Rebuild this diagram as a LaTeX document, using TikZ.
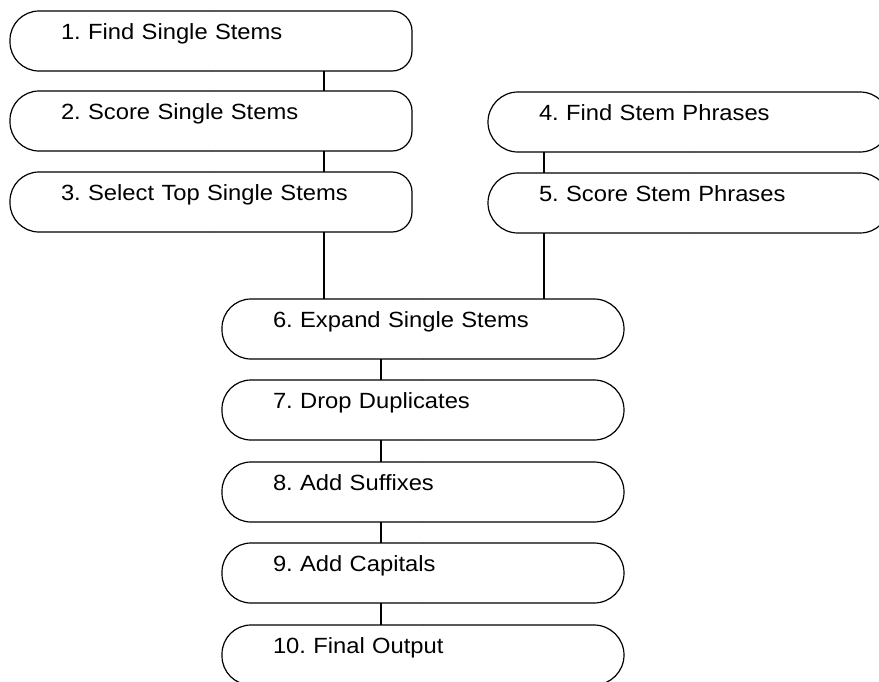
\documentclass[tikz,border=0pt]{standalone}
\usepackage{fontspec}
\setmainfont{Liberation Sans}[FakeStretch=1.08]
\frenchspacing
\newcommand\pillout[3]{%
  \draw[boxline, rounded corners=#2] (#1.north) -- (#1.north west) -- (#1.south west) -- (#1.south);
  \draw[boxline, rounded corners=#3] (#1.south) -- (#1.south east) -- (#1.north east) -- (#1.north);}
\begin{document}
\begin{tikzpicture}[x=1pt,y=-1pt,
  stepbox/.style={draw=none, rectangle, anchor=north west, align=left,
    text width=300pt, inner xsep=51pt, inner ysep=0pt, outer sep=0pt,
    text height=28pt, text depth=32pt, font=\fontsize{22}{26}\selectfont\frenchspacing},
  boxline/.style={line width=1.2pt, black},
  conn/.style={line width=1.8pt, black}]
\useasboundingbox (0,0) rectangle (879,681);
\clip (0,0) rectangle (879,681);
\node[stepbox] (n1) at (10,11) {1. Find Single Stems};
\node[stepbox] (n2) at (10,91) {2. Score Single Stems};
\node[stepbox] (n3) at (10,172) {3. Select Top Single Stems};
\node[stepbox] (n4) at (488,92) {4. Find Stem Phrases};
\node[stepbox] (n5) at (488,173) {5. Score Stem Phrases};
\node[stepbox] (n6) at (222,299) {6. Expand Single Stems};
\node[stepbox] (n7) at (222,380) {7. Drop Duplicates};
\node[stepbox] (n8) at (222,462) {8. Add Suffixes};
\node[stepbox] (n9) at (222,543) {9. Add Capitals};
\node[stepbox] (n10) at (222,625) {10. Final Output};
\pillout{n1}{29pt}{20pt}
\pillout{n2}{29pt}{20pt}
\pillout{n3}{29pt}{20pt}
\pillout{n4}{30pt}{30pt}
\pillout{n5}{30pt}{30pt}
\foreach \n in {n6,n7,n8,n9,n10}{\pillout{\n}{29pt}{30pt}}
\coordinate (c1) at ([xshift=113pt]n1.south);
\coordinate (c2) at ([xshift=113pt]n2.south);
\coordinate (c3) at ([xshift=113pt]n3.south);
\coordinate (c4) at ([xshift=-145pt]n4.south);
\coordinate (c5) at ([xshift=-145pt]n5.south);
\coordinate (c6) at ([xshift=-42pt]n6.south);
\coordinate (c7) at ([xshift=-42pt]n7.south);
\coordinate (c8) at ([xshift=-42pt]n8.south);
\coordinate (c9) at ([xshift=-42pt]n9.south);
\draw[conn] (c1) -- (c1 |- n2.north);
\draw[conn] (c2) -- (c2 |- n3.north);
\draw[conn] (c3) -- (c3 |- n6.north);
\draw[conn] (c4) -- (c4 |- n5.north);
\draw[conn] (c5) -- (c5 |- n6.north);
\draw[conn] (c6) -- (c6 |- n7.north);
\draw[conn] (c7) -- (c7 |- n8.north);
\draw[conn] (c8) -- (c8 |- n9.north);
\draw[conn] (c9) -- (c9 |- n10.north);
\end{tikzpicture}
\end{document}
